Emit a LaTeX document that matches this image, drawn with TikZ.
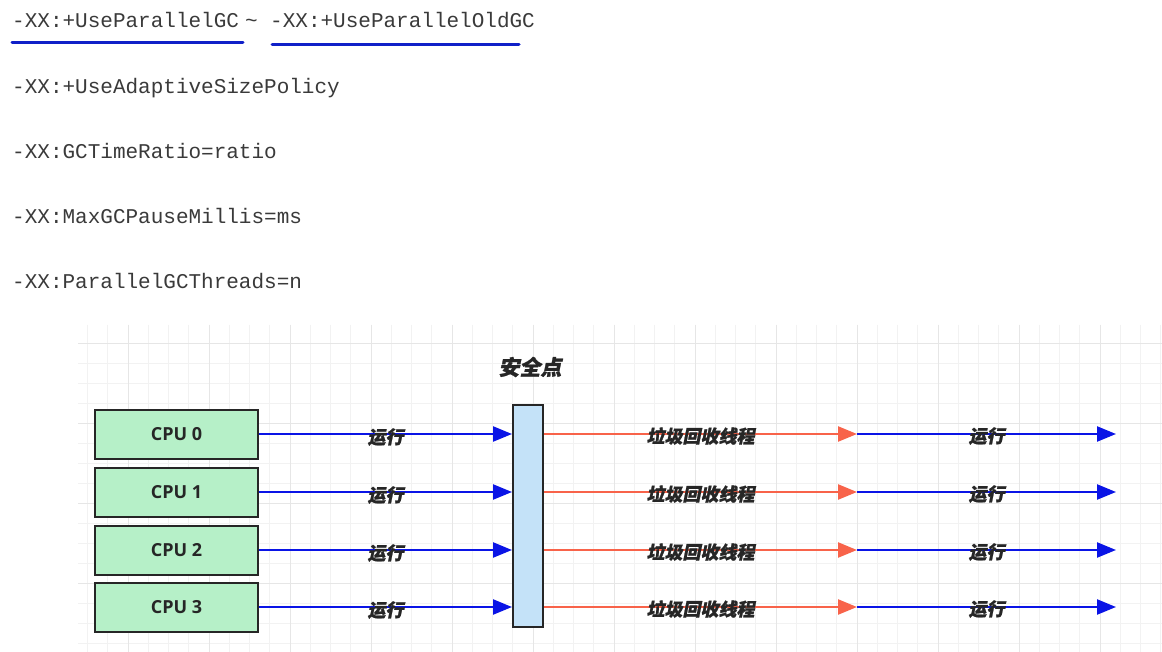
\documentclass[tikz,border=0pt]{standalone}
\usepackage{fontspec}
\setmonofont{Liberation Mono}
\newfontfamily\cjk[FakeSlant=0.2,FakeBold=1.2]{Noto Sans CJK SC}
\newfontfamily\cpufont{Open Sans}
\usetikzlibrary{arrows.meta}
\definecolor{codegray}{HTML}{3A3A3A}
\definecolor{ulblue}{HTML}{1020C8}
\definecolor{runblue}{HTML}{0A14E6}
\definecolor{gcred}{HTML}{F8634A}
\definecolor{cpugreen}{HTML}{B6F0C8}
\definecolor{safeblue}{HTML}{C4E2F8}
\definecolor{gridminor}{HTML}{F2F2F2}
\definecolor{gridmajor}{HTML}{E6E6E6}
\tikzset{
  code/.style={anchor=base west, inner sep=0, text=codegray, font=\ttfamily\fontsize{21}{21}\selectfont},
  cpubox/.style={draw=black!85, line width=2pt, fill=cpugreen, minimum width=163pt, minimum height=49pt, inner sep=0, font=\cpufont\bfseries\fontsize{18}{18}\selectfont, text=black!85},
  safebox/.style={draw=black!85, line width=2pt, fill=safeblue, minimum width=30pt, minimum height=222pt, inner sep=0},
  runarrow/.style={draw=runblue, line width=2.4pt, -{Triangle[length=19pt,width=15pt]}},
  gcarrow/.style={draw=gcred, line width=2.4pt, -{Triangle[length=19pt,width=15pt]}},
  lbl/.style={inner sep=0, text=black!85, font=\cjk\bfseries\fontsize{18}{18}\selectfont},
  ul/.style={draw=ulblue, line width=3pt, line cap=round}
}
\begin{document}
\begin{tikzpicture}[x=1pt,y=-1pt]
\useasboundingbox[fill=white] (0,0) rectangle (1162,652);
% grid
\begin{scope}
\clip (78,325) rectangle (1162,652);
\foreach \i in {0,...,60} {
  \draw[gridminor, line width=0.8pt] ({47+\i*20.25},325) -- ({47+\i*20.25},652);
}
\foreach \j in {0,...,20} {
  \draw[gridminor, line width=0.8pt] (78,{263+\j*20}) -- (1162,{263+\j*20});
}
\foreach \i in {0,...,15} {
  \draw[gridmajor, line width=1pt] ({47+\i*81},325) -- ({47+\i*81},652);
}
\foreach \j in {0,...,5} {
  \draw[gridmajor, line width=1pt] (78,{263+\j*80}) -- (1162,{263+\j*80});
}
\end{scope}
% code lines
\node[code] (c1) at (12,28) {-XX:+UseParallelGC};
\node[code] (tilde) at (245,28) {\textasciitilde};
\node[code] (c1b) at (270,28) {-XX:+UseParallelOldGC};
\node[code] (c2) at (12,94) {-XX:+UseAdaptiveSizePolicy};
\node[code] (c3) at (12,159) {-XX:GCTimeRatio=ratio};
\node[code] (c4) at (12,224) {-XX:MaxGCPauseMillis=ms};
\node[code] (c5) at (12,289) {-XX:ParallelGCThreads=n};
\coordinate (u1a) at (12,43);
\coordinate (u1b) at (243,43);
\coordinate (u2a) at (272,45);
\coordinate (u2b) at (519,45);
\draw[ul] (u1a) -- (u1b);
\draw[ul] (u2a) -- (u2b);
% safepoint
\node[safebox] (safe) at (528,516) {};
\node[lbl, font=\cjk\bfseries\fontsize{21}{21}\selectfont] (safelbl) at (530,367) {安全点};
% CPUs and arrows
\foreach \k/\y in {0/434,1/492,2/550,3/607} {
  \node[cpubox] (cpu\k) at (176.5,\y) {CPU \k};
  \coordinate (sl\k) at (safe.west |- cpu\k.east);
  \coordinate (sr\k) at (safe.east |- cpu\k.east);
  \coordinate (gc\k) at (857,\y);
  \coordinate (end\k) at (1116,\y);
  \draw[runarrow] (cpu\k.east) -- node[lbl, pos=0.5, yshift=-3pt] {运行} (sl\k);
  \draw[gcarrow] (sr\k) -- node[lbl, pos=0.5, yshift=-2pt] {垃圾回收线程} (gc\k);
  \draw[runarrow] (gc\k) -- node[lbl, pos=0.5, yshift=-2pt] {运行} (end\k);
}
\end{tikzpicture}
\end{document}
